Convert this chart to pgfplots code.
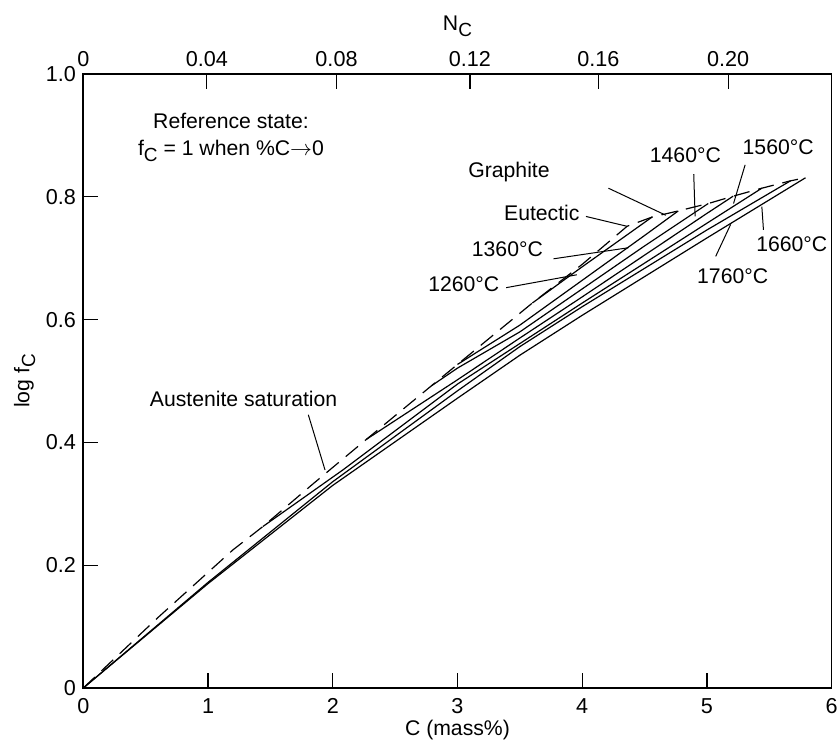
\documentclass[border=0pt]{standalone}
\usepackage{pgfplots}
\pgfplotsset{compat=1.18}
\usepackage{fontspec}
\setmainfont{Liberation Sans}
\newcommand{\sub}[1]{\raisebox{-0.5ex}{\fontsize{9.5}{9.5}\selectfont #1}}
\begin{document}
\fontsize{10.6}{12.6}\selectfont
\begin{tikzpicture}
\pgfplotsset{
  base/.style={at={(0,0)}, anchor=south west, scale only axis,
    width=374.2pt, height=307pt, xmin=0, xmax=6, ymin=0, ymax=1,
    tick align=inside, major tick length=7.5pt,
    axis line style={line width=0.8pt}, tick style={line width=0.6pt, black},
    every tick label/.append style={font=\fontsize{10.8}{12.6}\selectfont}},
}
\begin{axis}[base,
  xtick={0,1,2,3,4,5,6}, xticklabels={0,1,2,3,4,5,6},
  ytick={0,0.2,0.4,0.6,0.8,1}, yticklabels={0,0.2,0.4,0.6,0.8,1.0},
  xtick pos=lower, ytick pos=left,
  xticklabel style={yshift=-1.5pt},
  xlabel={C (mass\%)}, ylabel={log f\sub{C}},
  xlabel style={yshift=4pt}, ylabel style={yshift=-2pt},
  clip=false]
\pgfplotsset{iso/.style={black, line width=0.6pt, no marks}}
% isotherms
\addplot[iso] coordinates {(0,0)(1,0.170)(2,0.330)(3,0.472)(3.5,0.542)(4,0.607)(5,0.733)(5.79,0.831)};
\addplot[iso] coordinates {(0,0)(1,0.172)(2,0.336)(3,0.484)(3.5,0.556)(4,0.621)(5,0.746)(5.67,0.826)};
\addplot[iso] coordinates {(1.44,0.263)(2.08,0.355)(3,0.495)(3.5,0.561)(4,0.627)(5,0.757)(5.44,0.814)};
\addplot[iso] coordinates {(2.27,0.405)(3,0.502)(3.5,0.570)(4,0.637)(5,0.773)(5.21,0.801)};
\addplot[iso] coordinates {(2.79,0.492)(3.0,0.521)(3.5,0.580)(4,0.650)(4.5,0.720)(5.01,0.789)};
\addplot[iso] coordinates {(3.0,0.527)(3.5,0.591)(4,0.664)(4.5,0.737)(4.77,0.777)};
\addplot[iso] coordinates {(3.6,0.627)(4,0.686)(4.56,0.767)};
% saturation lines (austenite, then graphite)
\addplot[black, line width=0.6pt, no marks, dash pattern=on 8pt off 4.5pt] coordinates {
(0,0)(0.6,0.115)(1.2,0.225)(1.44,0.263)(1.845,0.333)(2.27,0.405)(2.79,0.492)(3.0,0.527)(3.45,0.602)(3.6,0.627)(4.0,0.690)(4.36,0.752)
(4.56,0.767)(4.77,0.777)(5.01,0.789)(5.21,0.801)(5.44,0.814)(5.67,0.826)(5.79,0.831)};
% annotations
\node[align=center, inner sep=0pt] at (axis cs:1.184,0.897) {Reference state:\\[1pt] f\sub{C} = 1 when \%C$\rightarrow$0};
\node[inner sep=0pt] at (axis cs:1.285,0.470) {Austenite saturation};
\draw[line width=0.5pt] (axis cs:1.804,0.445) -- (axis cs:1.938,0.355);
\node[inner sep=0pt] at (axis cs:3.413,0.840) {Graphite};
\draw[line width=0.5pt] (axis cs:4.21,0.814) -- (axis cs:4.67,0.770);
\node[inner sep=0pt] at (axis cs:3.676,0.773) {Eutectic};
\draw[line width=0.5pt] (axis cs:4.03,0.768) -- (axis cs:4.358,0.752);
\node[inner sep=0pt] at (axis cs:3.40,0.714) {1360°C};
\draw[line width=0.5pt] (axis cs:3.77,0.699) -- (axis cs:4.37,0.717);
\node[inner sep=0pt] at (axis cs:3.05,0.657) {1260°C};
\draw[line width=0.5pt] (axis cs:3.39,0.652) -- (axis cs:3.957,0.673);
\node[inner sep=0pt] at (axis cs:4.827,0.868) {1460°C};
\draw[line width=0.5pt] (axis cs:4.894,0.837) -- (axis cs:4.905,0.768);
\node[inner sep=0pt] at (axis cs:5.571,0.881) {1560°C};
\draw[line width=0.5pt] (axis cs:5.306,0.852) -- (axis cs:5.213,0.789);
\node[inner sep=0pt] at (axis cs:5.68,0.722) {1660°C};
\draw[line width=0.5pt] (axis cs:5.453,0.746) -- (axis cs:5.44,0.784);
\node[inner sep=0pt] at (axis cs:5.206,0.670) {1760°C};
\draw[line width=0.5pt] (axis cs:5.07,0.703) -- (axis cs:5.19,0.755);
\end{axis}
\begin{axis}[base,
  axis x line*=top, hide y axis,
  xtick={0,0.99,2.03,3.10,4.13,5.17}, xticklabels={0,0.04,0.08,0.12,0.16,0.20},
  xlabel={N\sub{C}}]
\end{axis}
\pgfresetboundingbox
\path[use as bounding box] (-41.65pt,-27.5pt) rectangle (378.35pt,344pt);
\end{tikzpicture}
\end{document}
